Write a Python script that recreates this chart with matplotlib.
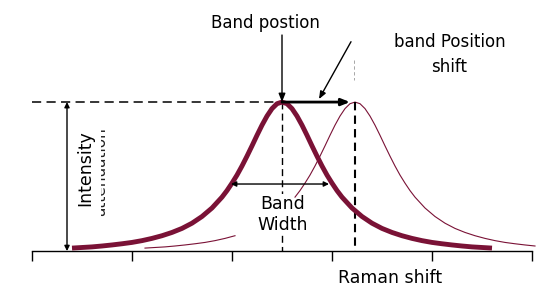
import matplotlib
matplotlib.use("Agg")
import matplotlib.pyplot as plt
import numpy as np
from matplotlib.transforms import Bbox, TransformedBbox

# half band profile (distance from band centre, relative height)
half_offset = [0.0, 0.05, 0.1, 0.15, 0.2, 0.25, 0.3, 0.35, 0.4, 0.45, 0.5, 0.55, 0.6,
               0.7, 0.8, 0.9, 1.0, 1.1, 1.2, 1.3, 1.4, 1.5, 1.6, 1.7, 1.8, 1.9, 2.0,
               2.1, 2.2]
half_height = [1.0, 0.989, 0.956, 0.906, 0.845, 0.777, 0.706, 0.637, 0.571, 0.51, 0.456,
               0.406, 0.362, 0.289, 0.232, 0.187, 0.152, 0.125, 0.103, 0.085, 0.07, 0.058,
               0.049, 0.041, 0.034, 0.028, 0.024, 0.02, 0.017]

band_center = 2.5      # original band
shifted_center = 3.23  # shifted band
tick_positions = [0, 1, 2, 3, 4, 5]
width_level = 0.45
maroon = "#7a1236"

# mirror the half profile into a full band
off = np.concatenate([-np.array(half_offset[:0:-1]), np.array(half_offset)])
hgt = np.concatenate([np.array(half_height[:0:-1]), np.array(half_height)])

fig = plt.figure(figsize=(5.6, 2.98), dpi=100)
ax = fig.add_axes([0, 0, 1, 1])
ax.set_xlim(-0.32, 5.28)
ax.set_ylim(-0.315, 1.685)

# thick original band
m = (off >= -2.15) & (off <= 2.1)
ax.plot(band_center + off[m], hgt[m], color=maroon, lw=3.5, solid_capstyle='butt', zorder=3)

# thin shifted band (partly hidden)
m1 = (off >= -2.1) & (off <= -1.2)
m2 = (off >= -0.6) & (off <= 1.8)
ax.plot(shifted_center + off[m1], hgt[m1], color=maroon, lw=0.8, zorder=2)
ax.plot(shifted_center + off[m2], hgt[m2], color=maroon, lw=0.8, zorder=2)

# axis with ticks
for s in ['top', 'right', 'left']:
    ax.spines[s].set_visible(False)
ax.spines['bottom'].set_position(('data', 0))
ax.spines['bottom'].set_bounds(0, 5)
ax.spines['bottom'].set_linewidth(1)
ax.set_xticks(tick_positions)
ax.set_xticklabels([])
ax.tick_params(axis='x', direction='out', length=7, width=1)
ax.set_yticks([])

# dashed guide lines
ax.plot([0, band_center], [1, 1], color='black', lw=1.1, dashes=(6, 3.5))
ax.plot([band_center, band_center], [1, 0], color='black', lw=1.0, dashes=(5, 3), zorder=0.5)
ax.plot([shifted_center, shifted_center], [1, 0], color='black', lw=1.5, dashes=(4, 2.5))
ax.plot([shifted_center - 0.01, shifted_center - 0.01], [1.28, 1.15], color='#999999', lw=0.6,
        dashes=(4, 3))

head = dict(arrowstyle='<|-|>,head_length=0.3,head_width=0.15', color='black', lw=1,
            shrinkA=0, shrinkB=0)
# intensity arrow
ax.annotate('', xy=(0.35, 0.0), xytext=(0.35, 1.0), arrowprops=head)
# band width arrow
ax.annotate('', xy=(1.99, width_level), xytext=(2.97, width_level), arrowprops=head)

# band position arrow
ax.annotate('', xy=(band_center, 1.0), xytext=(band_center, 1.45),
            arrowprops=dict(arrowstyle='-|>,head_length=0.5,head_width=0.2', color='black',
                            lw=1, shrinkA=0, shrinkB=0))
# shift arrow
ax.annotate('', xy=(3.18, 1.0), xytext=(band_center, 1.0),
            arrowprops=dict(arrowstyle='-|>,head_length=0.5,head_width=0.2', color='black',
                            lw=2, shrinkA=0, shrinkB=0))
# diagonal pointer
ax.annotate('', xy=(2.87, 1.02), xytext=(3.19, 1.405),
            arrowprops=dict(arrowstyle='-|>,head_length=0.45,head_width=0.18', color='black',
                            lw=1, shrinkA=0, shrinkB=0))

font = 'DejaVu Sans'
ax.text(2.33, 1.53, 'Band postion', ha='center', va='center', fontsize=12, family=font)
ax.text(4.18, 1.4, 'band Position', ha='center', va='center', fontsize=12, family=font)
ax.text(4.17, 1.235, 'shift', ha='center', va='center', fontsize=12, family=font)
ax.text(2.51, 0.245, 'Band\nWidth', ha='center', va='center', fontsize=12.5, family=font,
        linespacing=1.2, zorder=1,
        bbox=dict(facecolor='white', edgecolor='none', pad=1))
ax.text(3.58, -0.18, 'Raman shift', ha='center', va='center', fontsize=12.5, family=font)
ax.text(0.53, 0.56, 'Intensity', ha='center', va='center', rotation=90, fontsize=12.5,
        family=font)

# half-hidden second label
t = ax.text(0.69, 0.53, 'attenuation', ha='center', va='center', rotation=90,
            fontsize=11, family=font, color='#222222', clip_on=True)
t.set_clip_box(TransformedBbox(Bbox([[0.695, 0.1], [0.78, 1.0]]), ax.transData))

fig.savefig('out.png', dpi=100)
